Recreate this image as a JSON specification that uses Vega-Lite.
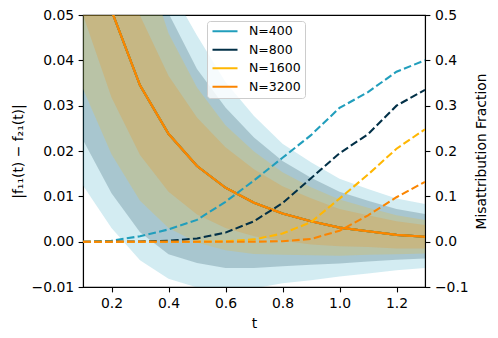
{
  "$schema": "https://vega.github.io/schema/vega-lite/v6.json",
  "width": 342,
  "height": 272,
  "autosize": {"type": "none"},
  "padding": {"left": 83, "top": 15, "right": 73, "bottom": 51},
  "background": "white",
  "config": {
    "font": "DejaVu Sans",
    "view": {"stroke": "black", "strokeWidth": 1.1},
    "axis": {
      "grid": false,
      "domainColor": "black",
      "domainWidth": 1.1,
      "tickColor": "black",
      "tickWidth": 1.1,
      "tickSize": 4.9,
      "labelPadding": 4.5,
      "labelFontSize": 13.9,
      "labelColor": "black",
      "titleFontSize": 13.9,
      "titleFontWeight": "normal",
      "titleColor": "black"
    }
  },
  "datasets": {
    "d": [
      {"t": 0.1, "N": "N=400", "mean": 0.075, "lo": 0.0124, "hi": 0.1376, "mis": 0},
      {"t": 0.2, "N": "N=400", "mean": 0.051, "lo": 0.003, "hi": 0.099, "mis": 0.002},
      {"t": 0.3, "N": "N=400", "mean": 0.0345, "lo": -0.0041, "hi": 0.0731, "mis": 0.012},
      {"t": 0.4, "N": "N=400", "mean": 0.0238, "lo": -0.0082, "hi": 0.0565, "mis": 0.027},
      {"t": 0.5, "N": "N=400", "mean": 0.0167, "lo": -0.0101, "hi": 0.0455, "mis": 0.048},
      {"t": 0.6, "N": "N=400", "mean": 0.0119, "lo": -0.0108, "hi": 0.0352, "mis": 0.088},
      {"t": 0.7, "N": "N=400", "mean": 0.0086, "lo": -0.0103, "hi": 0.0277, "mis": 0.135},
      {"t": 0.8, "N": "N=400", "mean": 0.0062, "lo": -0.0092, "hi": 0.0216, "mis": 0.185},
      {"t": 0.9, "N": "N=400", "mean": 0.0045, "lo": -0.0085, "hi": 0.0175, "mis": 0.235},
      {"t": 1.0, "N": "N=400", "mean": 0.0031, "lo": -0.0077, "hi": 0.0139, "mis": 0.295},
      {"t": 1.1, "N": "N=400", "mean": 0.0023, "lo": -0.007, "hi": 0.0116, "mis": 0.33},
      {"t": 1.2, "N": "N=400", "mean": 0.0015, "lo": -0.0063, "hi": 0.0095, "mis": 0.375},
      {"t": 1.3, "N": "N=400", "mean": 0.0011, "lo": -0.0058, "hi": 0.0083, "mis": 0.4},
      {"t": 0.1, "N": "N=800", "mean": 0.075, "lo": 0.0224, "hi": 0.1276, "mis": 0},
      {"t": 0.2, "N": "N=800", "mean": 0.051, "lo": 0.0107, "hi": 0.0913, "mis": 0},
      {"t": 0.3, "N": "N=800", "mean": 0.0345, "lo": 0.0021, "hi": 0.0669, "mis": 0.0005},
      {"t": 0.4, "N": "N=800", "mean": 0.0238, "lo": -0.0028, "hi": 0.0504, "mis": 0.002},
      {"t": 0.5, "N": "N=800", "mean": 0.0167, "lo": -0.0047, "hi": 0.0381, "mis": 0.007},
      {"t": 0.6, "N": "N=800", "mean": 0.0119, "lo": -0.0058, "hi": 0.0296, "mis": 0.02},
      {"t": 0.7, "N": "N=800", "mean": 0.0086, "lo": -0.0058, "hi": 0.023, "mis": 0.045},
      {"t": 0.8, "N": "N=800", "mean": 0.0062, "lo": -0.0054, "hi": 0.0178, "mis": 0.085},
      {"t": 0.9, "N": "N=800", "mean": 0.0045, "lo": -0.0051, "hi": 0.0141, "mis": 0.14},
      {"t": 1.0, "N": "N=800", "mean": 0.0031, "lo": -0.0048, "hi": 0.011, "mis": 0.195},
      {"t": 1.1, "N": "N=800", "mean": 0.0023, "lo": -0.0044, "hi": 0.009, "mis": 0.237},
      {"t": 1.2, "N": "N=800", "mean": 0.0015, "lo": -0.004, "hi": 0.0072, "mis": 0.3},
      {"t": 1.3, "N": "N=800", "mean": 0.0011, "lo": -0.0037, "hi": 0.0061, "mis": 0.335},
      {"t": 0.1, "N": "N=1600", "mean": 0.075, "lo": 0.0337, "hi": 0.1163, "mis": 0},
      {"t": 0.2, "N": "N=1600", "mean": 0.051, "lo": 0.0193, "hi": 0.0860, "mis": 0},
      {"t": 0.3, "N": "N=1600", "mean": 0.0345, "lo": 0.009, "hi": 0.065, "mis": 0},
      {"t": 0.4, "N": "N=1600", "mean": 0.0238, "lo": 0.003, "hi": 0.046, "mis": 0},
      {"t": 0.5, "N": "N=1600", "mean": 0.0167, "lo": -0.0002, "hi": 0.0340, "mis": 0},
      {"t": 0.6, "N": "N=1600", "mean": 0.0119, "lo": -0.0019, "hi": 0.0257, "mis": 0.001},
      {"t": 0.7, "N": "N=1600", "mean": 0.0086, "lo": -0.0027, "hi": 0.0199, "mis": 0.005},
      {"t": 0.8, "N": "N=1600", "mean": 0.0062, "lo": -0.0029, "hi": 0.0153, "mis": 0.018},
      {"t": 0.9, "N": "N=1600", "mean": 0.0045, "lo": -0.003, "hi": 0.012, "mis": 0.043},
      {"t": 1.0, "N": "N=1600", "mean": 0.0031, "lo": -0.0031, "hi": 0.0093, "mis": 0.095},
      {"t": 1.1, "N": "N=1600", "mean": 0.0023, "lo": -0.0029, "hi": 0.0075, "mis": 0.148},
      {"t": 1.2, "N": "N=1600", "mean": 0.0015, "lo": -0.0028, "hi": 0.0058, "mis": 0.205},
      {"t": 1.3, "N": "N=1600", "mean": 0.0011, "lo": -0.0026, "hi": 0.0048, "mis": 0.248},
      {"t": 0.1, "N": "N=3200", "mean": 0.075, "lo": 0.05, "hi": 0.1, "mis": 0},
      {"t": 0.2, "N": "N=3200", "mean": 0.051, "lo": 0.0318, "hi": 0.0702, "mis": 0},
      {"t": 0.3, "N": "N=3200", "mean": 0.0345, "lo": 0.0191, "hi": 0.0499, "mis": 0},
      {"t": 0.4, "N": "N=3200", "mean": 0.0238, "lo": 0.011, "hi": 0.0366, "mis": 0},
      {"t": 0.5, "N": "N=3200", "mean": 0.0167, "lo": 0.006, "hi": 0.0274, "mis": 0},
      {"t": 0.6, "N": "N=3200", "mean": 0.0119, "lo": 0.003, "hi": 0.0208, "mis": 0},
      {"t": 0.7, "N": "N=3200", "mean": 0.0086, "lo": 0.0012, "hi": 0.016, "mis": 0},
      {"t": 0.8, "N": "N=3200", "mean": 0.0062, "lo": 0.0002, "hi": 0.0122, "mis": 0.001},
      {"t": 0.9, "N": "N=3200", "mean": 0.0045, "lo": -0.0006, "hi": 0.0096, "mis": 0.006},
      {"t": 1.0, "N": "N=3200", "mean": 0.0031, "lo": -0.001, "hi": 0.0072, "mis": 0.024},
      {"t": 1.1, "N": "N=3200", "mean": 0.0023, "lo": -0.0012, "hi": 0.0058, "mis": 0.058},
      {"t": 1.2, "N": "N=3200", "mean": 0.0015, "lo": -0.0015, "hi": 0.0045, "mis": 0.098},
      {"t": 1.3, "N": "N=3200", "mean": 0.0011, "lo": -0.0015, "hi": 0.0037, "mis": 0.132}
    ]
  },
  "data": {"name": "d"},
  "encoding": {
    "x": {
      "field": "t",
      "type": "quantitative",
      "scale": {"domain": [0.1, 1.3], "nice": false, "zero": false},
      "axis": {"values": [0.2, 0.4, 0.6, 0.8, 1.0, 1.2], "format": ".1f", "title": "t", "titlePadding": 6}
    }
  },
  "layer": [
    {
      "layer": [
        {
          "transform": [{"filter": "datum.N == 'N=400'"}],
          "mark": {"type": "area", "clip": true, "color": "#219ebc", "opacity": 0.2},
          "encoding": {
            "y": {"field": "lo", "type": "quantitative", "title": "|f₁₁(t) − f₂₁(t)|",
              "scale": {"domain": [-0.01, 0.05], "nice": false, "zero": false},
              "axis": {"orient": "left", "values": [-0.01, 0, 0.01, 0.02, 0.03, 0.04, 0.05], "format": ".2f", "titlePadding": 6}},
            "y2": {"field": "hi"}
          }
        },
        {
          "transform": [{"filter": "datum.N == 'N=800'"}],
          "mark": {"type": "area", "clip": true, "color": "#023047", "opacity": 0.2},
          "encoding": {
            "y": {"field": "lo", "type": "quantitative", "title": "|f₁₁(t) − f₂₁(t)|"},
            "y2": {"field": "hi"}
          }
        },
        {
          "transform": [{"filter": "datum.N == 'N=1600'"}],
          "mark": {"type": "area", "clip": true, "color": "#ffb703", "opacity": 0.2},
          "encoding": {
            "y": {"field": "lo", "type": "quantitative", "title": "|f₁₁(t) − f₂₁(t)|"},
            "y2": {"field": "hi"}
          }
        },
        {
          "transform": [{"filter": "datum.N == 'N=3200'"}],
          "mark": {"type": "area", "clip": true, "color": "#fb8500", "opacity": 0.2},
          "encoding": {
            "y": {"field": "lo", "type": "quantitative", "title": "|f₁₁(t) − f₂₁(t)|"},
            "y2": {"field": "hi"}
          }
        },
        {
          "mark": {"type": "line", "clip": true, "strokeWidth": 2.08},
          "encoding": {
            "y": {"field": "mean", "type": "quantitative", "title": "|f₁₁(t) − f₂₁(t)|"},
            "color": {
              "field": "N",
              "type": "nominal",
              "sort": ["N=400", "N=800", "N=1600", "N=3200"],
              "scale": {"domain": ["N=400", "N=800", "N=1600", "N=3200"], "range": ["#219ebc", "#023047", "#ffb703", "#fb8500"]},
              "legend": {
                "title": null,
                "orient": "none",
                "legendX": 124,
                "legendY": 6,
                "symbolType": "stroke",
                "symbolSize": 625,
                "symbolStrokeWidth": 2.08,
                "labelFontSize": 12.5,
                "labelColor": "black",
                "labelOffset": 10,
                "padding": 4,
                "rowPadding": 5.5,
                "clipHeight": 12.5,
                "strokeColor": "#cccccc",
                "fillColor": "rgba(255,255,255,0.8)",
                "cornerRadius": 3
              }
            }
          }
        },
        {
          "mark": {"type": "rule", "color": "black", "strokeWidth": 1, "strokeDash": [1, 1.65]},
          "encoding": {"y": {"datum": 0, "type": "quantitative"}}
        }
      ]
    },
    {
      "mark": {"type": "line", "clip": true, "strokeWidth": 2.08, "strokeDash": [7.7, 3.3]},
      "encoding": {
        "y": {
          "field": "mis",
          "type": "quantitative",
          "title": "Misattribution Fraction",
          "scale": {"domain": [-0.1, 0.5], "nice": false, "zero": false},
          "axis": {"orient": "right", "values": [-0.1, 0, 0.1, 0.2, 0.3, 0.4, 0.5], "format": ".1f", "titleAngle": 270, "titlePadding": 20}
        },
        "color": {"field": "N", "type": "nominal", "legend": null}
      }
    }
  ],
  "resolve": {"scale": {"y": "independent"}}
}
